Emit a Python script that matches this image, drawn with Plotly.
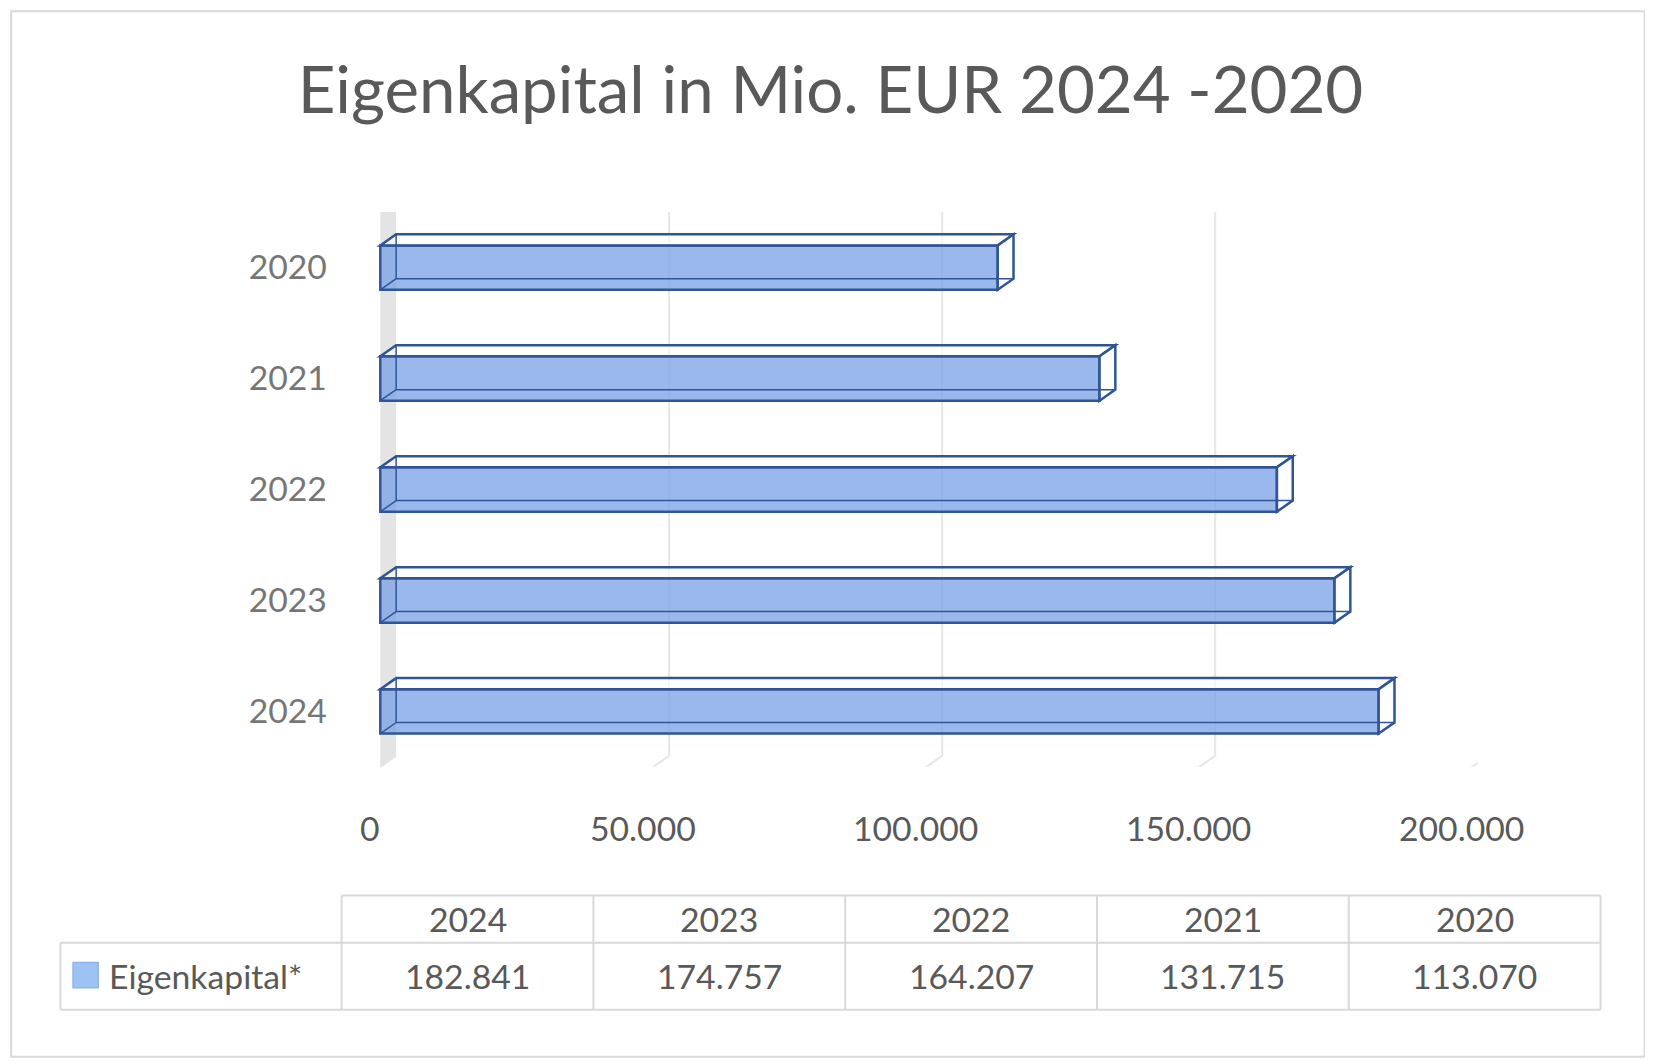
import plotly.graph_objects as go

years = ["2024", "2023", "2022", "2021", "2020"]
values = [182841, 174757, 164207, 131715, 113070]
value_labels = ["182.841", "174.757", "164.207", "131.715", "113.070"]
xticks = [0, 50000, 100000, 150000, 200000]
xtick_labels = ["0", "50.000", "100.000", "150.000", "200.000"]
series_name = "Eigenkapital*"
title = "Eigenkapital in Mio. EUR 2024 -2020"

W0, H0 = 1568, 1006
W, H = 1653, 1061
S = W / W0
def px(x): return x / W0
def py(y): return 1 - y / H0

TXT = "#595959"
FILL = "rgba(120,160,230,0.75)"
EDGE = "#2f5597"
FONT = "Lato"

xr = [-1900, 201000]
dx = 2900
dy = 0.1
bh = 0.4
ypos = list(range(len(years)))

fig = go.Figure()
fig.add_trace(go.Bar(y=ypos, x=values, orientation="h", width=bh,
                     marker=dict(color=FILL, line=dict(color=EDGE, width=2.5)),
                     showlegend=False, hoverinfo="x"))

shapes = []
shapes.append(dict(type="path", xref="x", yref="y", layer="below",
                   path=f"M 0 -0.5 L {dx} {-0.5+dy} L {dx} {4.5+dy} L 0 4.5 Z",
                   fillcolor="#e4e4e4", line=dict(width=0)))
for t in xticks[1:]:
    shapes.append(dict(type="line", xref="x", yref="y", layer="below",
                       x0=t+dx, x1=t+dx, y0=-0.5+dy, y1=4.5+dy,
                       line=dict(color="#e6e6e6", width=2)))
    shapes.append(dict(type="line", xref="x", yref="y", layer="below",
                       x0=t+dx, x1=t-2*dx, y0=-0.5+dy, y1=-0.5-2*dy,
                       line=dict(color="#e6e6e6", width=2)))
shapes.append(dict(type="line", xref="x", yref="y", layer="below",
                   x0=dx, x1=-2*dx, y0=-0.5+dy, y1=-0.5-2*dy,
                   line=dict(color="#e6e6e6", width=2)))
for y, v in zip(ypos, values):
    t, b = y + bh/2, y - bh/2
    shapes.append(dict(type="path", xref="x", yref="y",
                       path=f"M 0 {t} L {v} {t} L {v+dx} {t+dy} L {dx} {t+dy} Z",
                       fillcolor="rgba(255,255,255,0.6)", line=dict(color=EDGE, width=2.5)))
    shapes.append(dict(type="path", xref="x", yref="y",
                       path=f"M {v} {b} L {v+dx} {b+dy} L {v+dx} {t+dy} L {v} {t} Z",
                       fillcolor="rgba(255,255,255,0.6)", line=dict(color=EDGE, width=2.5)))
    shapes.append(dict(type="path", xref="x", yref="y",
                       path=f"M {dx} {b+dy} L {dx} {t+dy} M {dx} {b+dy} L {v+dx} {b+dy} M 0 {b} L {dx} {b+dy}",
                       line=dict(color=EDGE, width=1.5)))

shapes.append(dict(type="rect", xref="paper", yref="paper", x0=px(3), x1=px(1560), y0=py(1002), y1=py(3),
                   line=dict(color="#d9d9d9", width=2)))
T_L, T_R, C0 = 50, 1518, 318
cols = [318, 558, 798, 1038, 1278, 1518]
r0, r1, r2 = 848, 893, 957
lc = dict(color="#d9d9d9", width=2)
shapes.append(dict(type="line", xref="paper", yref="paper", x0=px(C0), x1=px(T_R), y0=py(r0), y1=py(r0), line=lc))
shapes.append(dict(type="line", xref="paper", yref="paper", x0=px(T_L), x1=px(T_R), y0=py(r1), y1=py(r1), line=lc))
shapes.append(dict(type="line", xref="paper", yref="paper", x0=px(T_L), x1=px(T_R), y0=py(r2), y1=py(r2), line=lc))
shapes.append(dict(type="line", xref="paper", yref="paper", x0=px(T_L), x1=px(T_L), y0=py(r1), y1=py(r2), line=lc))
for c in cols:
    shapes.append(dict(type="line", xref="paper", yref="paper", x0=px(c), x1=px(c), y0=py(r0), y1=py(r2), line=lc))
shapes.append(dict(type="rect", xref="paper", yref="paper", x0=px(62), x1=px(86), y0=py(936), y1=py(912),
                   fillcolor="#9dc3f5", line=dict(color="#8fb4e8", width=1.5)))

ann = []
for i, yr in enumerate(years):
    cx = (cols[i] + cols[i+1]) / 2
    ann.append(dict(x=px(cx), y=py((r0+r1)/2), xref="paper", yref="paper", text=yr, showarrow=False,
                    xanchor="center", yanchor="middle", font=dict(size=32*S, color=TXT, family=FONT)))
    ann.append(dict(x=px(cx), y=py((r1+r2)/2), xref="paper", yref="paper", text=value_labels[i], showarrow=False,
                    xanchor="center", yanchor="middle", font=dict(size=32*S, color=TXT, family=FONT)))
ann.append(dict(x=px(94), y=py(925), xref="paper", yref="paper", text=series_name, showarrow=False,
                xanchor="left", yanchor="middle", font=dict(size=32*S, color=TXT, family=FONT)))
for t, lab in zip(xticks, xtick_labels):
    ann.append(dict(x=t - 1900, y=py(783), xref="x", yref="paper", text=lab, showarrow=False,
                    xanchor="center", yanchor="middle", font=dict(size=32*S, color=TXT, family=FONT)))

fig.update_layout(
    width=W - 8, height=H - 8, paper_bgcolor="white", plot_bgcolor="white",
    margin=dict(l=0, r=0, t=0, b=0),
    title=dict(text=title, x=0.5, xanchor="center", y=py(78), yanchor="middle",
               font=dict(size=62*S, color=TXT, family=FONT)),
    xaxis=dict(domain=[px(345), px(1401)], range=xr, showgrid=False, zeroline=False,
               showticklabels=False, fixedrange=True),
    yaxis=dict(domain=[py(725), py(195)], range=[-0.5, 4.5], tickvals=ypos, ticktext=years,
               showgrid=False, zeroline=False, ticklabelstandoff=int(40*S),
               tickfont=dict(size=32*S, color="#767676", family=FONT)),
    shapes=shapes, annotations=ann, bargap=0.6,
)
fig.write_html("out.html")
